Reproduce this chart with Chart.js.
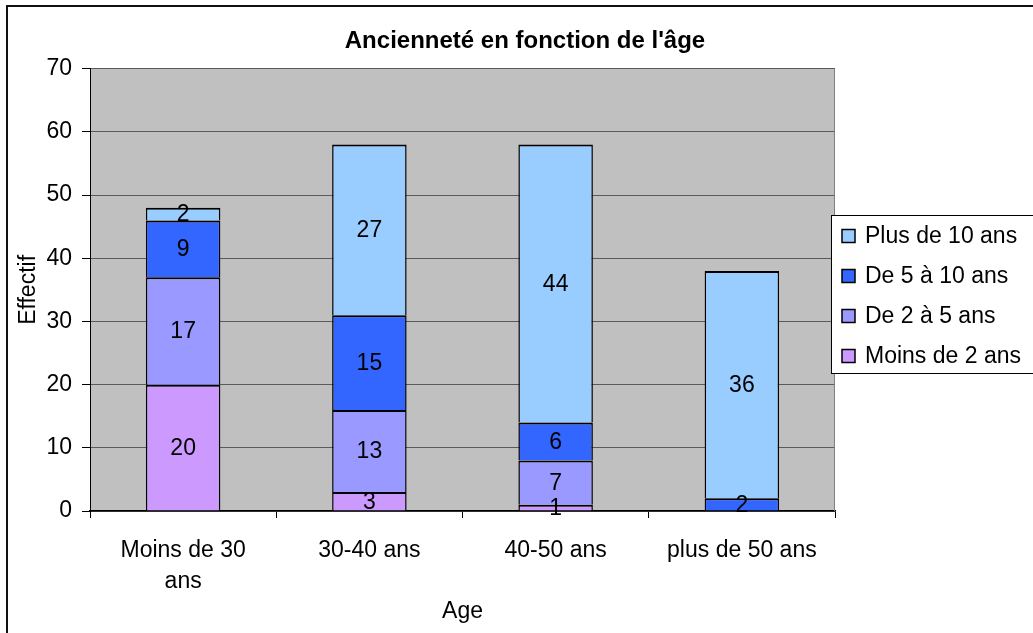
<!DOCTYPE html>
<html><head><meta charset="utf-8">
<script src="https://cdn.jsdelivr.net/npm/chart.js@4.4.1/dist/chart.umd.min.js"></script>
<style>html,body{margin:0;padding:0;background:#fff;} #c{display:block;}</style>
</head><body>
<canvas id="c" width="1033" height="633"></canvas>
<script>
// ---- data ----
const categories = [['Moins de 30', 'ans'], '30-40 ans', '40-50 ans', 'plus de 50 ans'];
const seriesNames = ['Moins de 2 ans', 'De 2 à 5 ans', 'De 5 à 10 ans', 'Plus de 10 ans'];
const moinsDe2 = [20, 3, 1, 0];
const de2a5 = [17, 13, 7, 0];
const de5a10 = [9, 15, 6, 2];
const plusDe10 = [2, 27, 44, 36];
const yTickValues = [0, 10, 20, 30, 40, 50, 60, 70];
const chartTitle = "Ancienneté en fonction de l'âge";
const xTitle = 'Age';
const yTitle = 'Effectif';

// ---- styles ----
const FONT = '"Liberation Sans", Arial, sans-serif';
const seriesColors = ['#CC99FF', '#9999FF', '#3366FF', '#99CCFF'];
const seriesValues = [moinsDe2, de2a5, de5a10, plusDe10];

const frame = {
  id: 'frame',
  beforeDraw(chart) {
    const {ctx, chartArea: a} = chart;
    ctx.save();
    ctx.fillStyle = '#fff';
    ctx.fillRect(0, 0, chart.width, chart.height);
    ctx.strokeStyle = '#111';
    ctx.lineWidth = 2;
    ctx.beginPath();
    ctx.moveTo(7, chart.height + 2);
    ctx.lineTo(7, 6);
    ctx.lineTo(chart.width + 2, 6);
    ctx.stroke();
    ctx.fillStyle = '#C0C0C0';
    ctx.fillRect(a.left, a.top, a.right - a.left, a.bottom - a.top);
    ctx.restore();
  },
  beforeDatasetsDraw(chart) {
    const {ctx, chartArea: a} = chart;
    ctx.save();
    ctx.strokeStyle = '#808080';
    ctx.lineWidth = 1;
    ctx.beginPath();
    ctx.moveTo(a.right - 0.5, a.top);
    ctx.lineTo(a.right - 0.5, a.bottom);
    ctx.stroke();
    ctx.restore();
  }
};

const valueLabels = {
  id: 'valueLabels',
  afterDatasetsDraw(chart) {
    const ctx = chart.ctx;
    ctx.save();
    ctx.font = '23px ' + FONT;
    ctx.fillStyle = '#000';
    ctx.textAlign = 'center';
    ctx.textBaseline = 'middle';
    chart.data.datasets.forEach((ds, i) => {
      const meta = chart.getDatasetMeta(i);
      meta.data.forEach((bar, j) => {
        const v = ds.data[j];
        if (!v) return;
        const p = bar.getProps(['x', 'y', 'base'], true);
        ctx.fillText(String(v), p.x, (p.y + p.base) / 2 + 1);
      });
    });
    ctx.restore();
  }
};

const boxLegend = {
  id: 'boxLegend',
  afterDraw(chart) {
    const {ctx, chartArea: a} = chart;
    const left = a.right - 4;
    const top = Math.round((a.top + a.bottom) / 2 - 75);
    const h = 158;
    ctx.save();
    ctx.fillStyle = '#fff';
    ctx.fillRect(left, top, chart.width - left + 5, h);
    ctx.strokeStyle = '#000';
    ctx.lineWidth = 1;
    ctx.strokeRect(left + 0.5, top + 0.5, chart.width - left + 5, h);
    const dss = chart.data.datasets.slice().reverse();
    ctx.font = '23px ' + FONT;
    ctx.textAlign = 'left';
    ctx.textBaseline = 'middle';
    dss.forEach((ds, i) => {
      const cy = top + 21 + i * 40;
      ctx.fillStyle = ds.backgroundColor;
      ctx.fillRect(left + 11, cy - 6.5, 13, 13);
      ctx.lineWidth = 1.5;
      ctx.strokeStyle = '#000';
      ctx.strokeRect(left + 11, cy - 6.5, 13, 13);
      ctx.fillStyle = '#000';
      ctx.fillText(ds.label, left + 34, cy + 1);
    });
    ctx.restore();
  }
};

new Chart(document.getElementById('c'), {
  type: 'bar',
  data: {
    labels: categories,
    datasets: seriesNames.map((n, i) => ({
      label: n,
      data: seriesValues[i],
      yAxisID: 'y',
      backgroundColor: seriesColors[i],
      borderColor: '#000',
      borderWidth: {top: 2, left: 1.5, right: 1.5, bottom: 0},
      borderSkipped: false,
      categoryPercentage: 1,
      barPercentage: 0.4
    }))
  },
  options: {
    responsive: false,
    animation: false,
    layout: {padding: {left: 17, right: 0, top: 0, bottom: 0}},
    plugins: {
      legend: {display: false},
      tooltip: {enabled: false},
      title: {
        display: true, text: chartTitle, color: '#000',
        font: {family: FONT, size: 24, weight: 'bold', lineHeight: 1.2},
        padding: {top: 27, bottom: 13}
      }
    },
    scales: {
      x: {
        stacked: true,
        grid: {display: true, drawOnChartArea: false, drawTicks: true, tickLength: 7, tickColor: '#000', offset: true},
        border: {display: true, color: '#000', width: 1.5},
        ticks: {color: '#000', font: {family: FONT, size: 23, lineHeight: 1.35}, padding: 17, maxRotation: 0, autoSkip: false},
        title: {display: true, text: xTitle, color: '#000', font: {family: FONT, size: 23, lineHeight: 1.2}, padding: {top: 0, bottom: 8}},
        afterFit(s) { s.height = 122; }
      },
      y: {
        stacked: true, min: 0, max: 70,
        afterBuildTicks(s) { s.ticks = yTickValues.map(v => ({value: v})); },
        ticks: {color: '#000', font: {family: FONT, size: 23}, padding: 10},
        grid: {color: '#5a5a5a', tickColor: '#000', tickLength: 8},
        border: {color: '#000', width: 1},
        title: {display: true, text: yTitle, color: '#000', font: {family: FONT, size: 23, lineHeight: 1}, padding: {top: 0, bottom: 0}},
        afterFit(s) { s.width = 73; }
      },
      yR: {
        type: 'linear', position: 'right', display: true, min: 0, max: 1,
        grid: {display: false}, border: {display: false}, ticks: {display: false},
        afterFit(s) { s.width = 198; }
      }
    }
  },
  plugins: [frame, valueLabels, boxLegend]
});
</script>
</body></html>
